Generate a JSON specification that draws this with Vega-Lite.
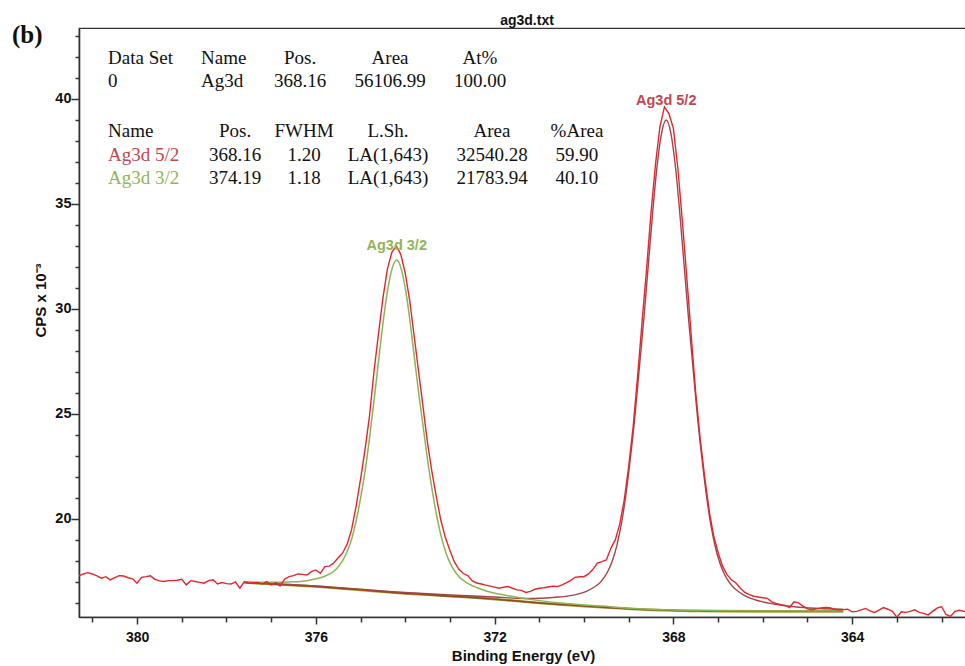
{
"$schema": "https://vega.github.io/schema/vega-lite/v6.json",
"autosize": "none",
"width": 888,
"height": 589,
"padding": {"left": 79, "top": 28, "right": 0, "bottom": 49},
"background": "white",
"config": {"font": "Liberation Sans", "view": {"stroke": "#333", "strokeWidth": 1.2}},
"title": {"text": "ag3d.txt", "fontSize": 14, "fontWeight": "bold", "color": "#111", "offset": -5, "dx": 4},
"datasets": {
"raw": [
{"E":381.3,"C":17.29},{"E":381.2,"C":17.38},{"E":381.1,"C":17.44},{"E":381.0,"C":17.38},{"E":380.9,"C":17.29},{"E":380.8,"C":17.18},{"E":380.7,"C":17.25},{"E":380.6,"C":17.10},{"E":380.5,"C":17.20},{"E":380.4,"C":17.30},{"E":380.3,"C":17.28},{"E":380.2,"C":17.20},{"E":380.1,"C":17.15},{"E":380.0,"C":16.94},{"E":379.9,"C":17.22},{"E":379.8,"C":17.25},{"E":379.7,"C":17.29},{"E":379.6,"C":17.12},{"E":379.5,"C":17.05},{"E":379.4,"C":17.02},{"E":379.3,"C":17.06},{"E":379.2,"C":17.06},{"E":379.1,"C":17.08},{"E":379.0,"C":17.13},{"E":378.9,"C":16.86},{"E":378.8,"C":17.06},{"E":378.7,"C":17.02},{"E":378.6,"C":16.98},{"E":378.5,"C":16.94},{"E":378.4,"C":17.06},{"E":378.3,"C":17.10},{"E":378.2,"C":16.90},{"E":378.1,"C":16.97},{"E":378.0,"C":16.92},{"E":377.9,"C":16.90},{"E":377.8,"C":17.00},{"E":377.7,"C":16.70},{"E":377.6,"C":17.02},{"E":377.5,"C":16.94},{"E":377.4,"C":16.96},{"E":377.3,"C":16.97},{"E":377.2,"C":16.90},{"E":377.1,"C":17.02},{"E":377.0,"C":16.86},{"E":376.9,"C":16.97},{"E":376.8,"C":16.81},{"E":376.7,"C":17.13},{"E":376.6,"C":17.25},{"E":376.5,"C":17.30},{"E":376.4,"C":17.38},{"E":376.3,"C":17.36},{"E":376.2,"C":17.33},{"E":376.1,"C":17.49},{"E":376.0,"C":17.57},{"E":375.9,"C":17.41},{"E":375.8,"C":17.73},{"E":375.7,"C":17.75},{"E":375.6,"C":17.90},{"E":375.5,"C":18.15},{"E":375.4,"C":18.38},{"E":375.3,"C":18.80},{"E":375.2,"C":19.50},{"E":375.1,"C":20.60},{"E":375.0,"C":21.90},{"E":374.9,"C":23.30},{"E":374.8,"C":24.90},{"E":374.7,"C":27.00},{"E":374.6,"C":28.80},{"E":374.5,"C":30.50},{"E":374.4,"C":31.90},{"E":374.3,"C":32.70},{"E":374.2,"C":33.00},{"E":374.1,"C":32.60},{"E":374.0,"C":31.70},{"E":373.9,"C":30.40},{"E":373.8,"C":28.70},{"E":373.7,"C":27.00},{"E":373.6,"C":25.30},{"E":373.5,"C":23.60},{"E":373.4,"C":22.20},{"E":373.3,"C":21.00},{"E":373.2,"C":19.90},{"E":373.1,"C":19.10},{"E":373.0,"C":18.50},{"E":372.9,"C":17.95},{"E":372.8,"C":17.60},{"E":372.7,"C":17.40},{"E":372.6,"C":17.30},{"E":372.5,"C":17.05},{"E":372.4,"C":16.95},{"E":372.3,"C":16.90},{"E":372.2,"C":16.85},{"E":372.1,"C":16.80},{"E":372.0,"C":16.75},{"E":371.9,"C":16.70},{"E":371.8,"C":16.75},{"E":371.7,"C":16.78},{"E":371.6,"C":16.70},{"E":371.5,"C":16.62},{"E":371.4,"C":16.60},{"E":371.3,"C":16.50},{"E":371.2,"C":16.55},{"E":371.1,"C":16.65},{"E":371.0,"C":16.70},{"E":370.9,"C":16.72},{"E":370.8,"C":16.76},{"E":370.7,"C":16.80},{"E":370.6,"C":16.78},{"E":370.5,"C":16.85},{"E":370.4,"C":16.95},{"E":370.3,"C":17.06},{"E":370.2,"C":17.22},{"E":370.1,"C":17.25},{"E":370.0,"C":17.25},{"E":369.9,"C":17.38},{"E":369.8,"C":17.60},{"E":369.7,"C":17.90},{"E":369.6,"C":17.97},{"E":369.5,"C":18.05},{"E":369.4,"C":18.60},{"E":369.3,"C":19.00},{"E":369.2,"C":19.75},{"E":369.1,"C":20.90},{"E":369.0,"C":22.50},{"E":368.9,"C":24.40},{"E":368.8,"C":26.80},{"E":368.7,"C":29.40},{"E":368.6,"C":31.90},{"E":368.5,"C":34.60},{"E":368.4,"C":36.90},{"E":368.3,"C":38.70},{"E":368.2,"C":39.62},{"E":368.1,"C":39.30},{"E":368.0,"C":38.60},{"E":367.9,"C":36.70},{"E":367.8,"C":34.20},{"E":367.7,"C":31.50},{"E":367.6,"C":28.70},{"E":367.5,"C":26.00},{"E":367.4,"C":23.80},{"E":367.3,"C":22.00},{"E":367.2,"C":20.40},{"E":367.1,"C":19.20},{"E":367.0,"C":18.40},{"E":366.9,"C":17.75},{"E":366.8,"C":17.35},{"E":366.7,"C":17.10},{"E":366.6,"C":16.95},{"E":366.5,"C":16.70},{"E":366.4,"C":16.50},{"E":366.3,"C":16.40},{"E":366.2,"C":16.32},{"E":366.1,"C":16.28},{"E":366.0,"C":16.25},{"E":365.9,"C":16.22},{"E":365.8,"C":16.05},{"E":365.7,"C":15.98},{"E":365.6,"C":15.92},{"E":365.5,"C":15.88},{"E":365.4,"C":15.78},{"E":365.3,"C":16.05},{"E":365.2,"C":16.00},{"E":365.1,"C":15.85},{"E":365.0,"C":15.72},{"E":364.9,"C":15.67},{"E":364.8,"C":15.72},{"E":364.7,"C":15.76},{"E":364.6,"C":15.78},{"E":364.5,"C":15.77},{"E":364.4,"C":15.70},{"E":364.3,"C":15.67},{"E":364.2,"C":15.68},{"E":364.1,"C":15.70},{"E":364.0,"C":15.58},{"E":363.9,"C":15.60},{"E":363.8,"C":15.67},{"E":363.7,"C":15.74},{"E":363.6,"C":15.62},{"E":363.5,"C":15.55},{"E":363.4,"C":15.66},{"E":363.3,"C":15.78},{"E":363.2,"C":15.70},{"E":363.1,"C":15.60},{"E":363.0,"C":15.32},{"E":362.9,"C":15.58},{"E":362.8,"C":15.55},{"E":362.7,"C":15.60},{"E":362.6,"C":15.67},{"E":362.5,"C":15.55},{"E":362.4,"C":15.50},{"E":362.3,"C":15.43},{"E":362.2,"C":15.60},{"E":362.1,"C":15.75},{"E":362.0,"C":15.83},{"E":361.9,"C":15.45},{"E":361.8,"C":15.36},{"E":361.7,"C":15.60},{"E":361.6,"C":15.65},{"E":361.5,"C":15.60},{"E":361.4,"C":15.55}
],
"bg": [
{"E":377.6,"C":16.97},{"E":377.0,"C":16.90},{"E":376.5,"C":16.84},{"E":376.0,"C":16.78},{"E":375.5,"C":16.70},{"E":375.0,"C":16.62},{"E":374.5,"C":16.53},{"E":374.0,"C":16.45},{"E":373.5,"C":16.39},{"E":373.0,"C":16.32},{"E":372.5,"C":16.26},{"E":372.0,"C":16.18},{"E":371.5,"C":16.09},{"E":371.0,"C":16.00},{"E":370.5,"C":15.92},{"E":370.0,"C":15.85},{"E":369.5,"C":15.78},{"E":369.0,"C":15.72},{"E":368.5,"C":15.67},{"E":368.0,"C":15.64},{"E":367.5,"C":15.62},{"E":367.0,"C":15.61},{"E":366.0,"C":15.60},{"E":365.0,"C":15.60},{"E":364.2,"C":15.60}
],
"c32": [
{"E":377.6,"C":17.00},{"E":377.0,"C":16.98},{"E":376.6,"C":17.00},{"E":376.2,"C":17.06},{"E":375.99,"C":17.15},{"E":375.79,"C":17.28},{"E":375.59,"C":17.52},{"E":375.49,"C":17.75},{"E":375.39,"C":18.05},{"E":375.29,"C":18.50},{"E":375.19,"C":19.10},{"E":375.09,"C":20.00},{"E":374.99,"C":21.10},{"E":374.89,"C":22.40},{"E":374.79,"C":24.00},{"E":374.69,"C":25.80},{"E":374.59,"C":27.65},{"E":374.49,"C":29.45},{"E":374.39,"C":30.94},{"E":374.29,"C":31.95},{"E":374.19,"C":32.33},{"E":374.09,"C":31.91},{"E":373.99,"C":30.87},{"E":373.89,"C":29.36},{"E":373.79,"C":27.59},{"E":373.69,"C":25.84},{"E":373.59,"C":24.25},{"E":373.49,"C":22.65},{"E":373.39,"C":21.28},{"E":373.29,"C":20.08},{"E":373.19,"C":19.12},{"E":373.09,"C":18.39},{"E":372.99,"C":17.87},{"E":372.89,"C":17.51},{"E":372.79,"C":17.24},{"E":372.69,"C":17.06},{"E":372.59,"C":16.92},{"E":372.39,"C":16.72},{"E":372.19,"C":16.57},{"E":371.8,"C":16.38},{"E":371.4,"C":16.23},{"E":371.0,"C":16.11},{"E":370.4,"C":15.97},{"E":369.6,"C":15.85},{"E":369.0,"C":15.75},{"E":368.0,"C":15.66},{"E":367.0,"C":15.63},{"E":366.0,"C":15.61},{"E":364.2,"C":15.61}
],
"c52": [
{"E":377.6,"C":16.99},{"E":376.0,"C":16.81},{"E":374.2,"C":16.52},{"E":373.0,"C":16.38},{"E":372.0,"C":16.28},{"E":371.36,"C":16.21},{"E":370.96,"C":16.22},{"E":370.56,"C":16.28},{"E":370.16,"C":16.41},{"E":369.96,"C":16.54},{"E":369.76,"C":16.77},{"E":369.66,"C":16.93},{"E":369.56,"C":17.18},{"E":369.46,"C":17.53},{"E":369.36,"C":18.04},{"E":369.26,"C":18.78},{"E":369.16,"C":19.81},{"E":369.06,"C":21.20},{"E":368.96,"C":22.94},{"E":368.86,"C":24.91},{"E":368.76,"C":27.24},{"E":368.66,"C":29.56},{"E":368.56,"C":32.13},{"E":368.46,"C":34.69},{"E":368.36,"C":36.90},{"E":368.26,"C":38.42},{"E":368.16,"C":39.00},{"E":368.06,"C":38.41},{"E":367.96,"C":36.89},{"E":367.86,"C":34.66},{"E":367.76,"C":32.09},{"E":367.66,"C":29.52},{"E":367.56,"C":27.18},{"E":367.46,"C":24.84},{"E":367.36,"C":22.86},{"E":367.26,"C":21.11},{"E":367.16,"C":19.70},{"E":367.06,"C":18.65},{"E":366.96,"C":17.90},{"E":366.86,"C":17.38},{"E":366.76,"C":17.01},{"E":366.66,"C":16.75},{"E":366.56,"C":16.57},{"E":366.36,"C":16.30},{"E":366.16,"C":16.14},{"E":365.76,"C":15.95},{"E":365.36,"C":15.83},{"E":364.96,"C":15.76},{"E":364.2,"C":15.70}
],
"tableL": [
{"t":"Data Set","E":380.649,"C":41.67,"k":"head"},
{"t":"Name","E":378.568,"C":41.67,"k":"head"},
{"t":"0","E":380.649,"C":40.56,"k":"head"},
{"t":"Ag3d","E":378.568,"C":40.56,"k":"head"},
{"t":"Name","E":380.649,"C":38.18,"k":"head"},
{"t":"Ag3d 5/2","E":380.649,"C":37.06,"k":"p52"},
{"t":"Ag3d 3/2","E":380.649,"C":35.95,"k":"p32"}
],
"tableC": [
{"t":"Pos.","E":376.353,"C":41.67,"k":"head"},
{"t":"Area","E":374.34,"C":41.67,"k":"head"},
{"t":"At%","E":372.327,"C":41.67,"k":"head"},
{"t":"368.16","E":376.353,"C":40.56,"k":"head"},
{"t":"56106.99","E":374.34,"C":40.56,"k":"head"},
{"t":"100.00","E":372.327,"C":40.56,"k":"head"},
{"t":"Pos.","E":377.808,"C":38.18,"k":"head"},
{"t":"FWHM","E":376.264,"C":38.18,"k":"head"},
{"t":"L.Sh.","E":374.385,"C":38.18,"k":"head"},
{"t":"Area","E":372.058,"C":38.18,"k":"head"},
{"t":"%Area","E":370.157,"C":38.18,"k":"head"},
{"t":"368.16","E":377.808,"C":37.06,"k":"head"},
{"t":"1.20","E":376.264,"C":37.06,"k":"head"},
{"t":"LA(1,643)","E":374.385,"C":37.06,"k":"head"},
{"t":"32540.28","E":372.058,"C":37.06,"k":"head"},
{"t":"59.90","E":370.157,"C":37.06,"k":"head"},
{"t":"374.19","E":377.808,"C":35.95,"k":"head"},
{"t":"1.18","E":376.264,"C":35.95,"k":"head"},
{"t":"LA(1,643)","E":374.385,"C":35.95,"k":"head"},
{"t":"21783.94","E":372.058,"C":35.95,"k":"head"},
{"t":"40.10","E":370.157,"C":35.95,"k":"head"}
],
"peaks": [
{"t":"Ag3d 5/2","E":368.16,"C":39.69,"k":"p52"},
{"t":"Ag3d 3/2","E":374.19,"C":32.83,"k":"p32"}
],
"panel": [
{"t":"(b)","E":382.8,"C":42.68,"k":"head"}
]
},
"encoding": {
"x": {"field": "E", "type": "quantitative",
  "scale": {"domain": [361.43, 381.3], "reverse": true, "nice": false, "zero": false},
  "axis": {"values": [362,363,364,365,366,367,368,369,370,371,372,373,374,375,376,377,378,379,380,381],
    "labelExpr": "datum.value % 4 === 0 ? datum.label : ''",
    "tickSize": {"condition": {"test": "datum.value % 4 === 0", "value": 7}, "value": 5},
    "labelOverlap": false, "labelBound": false, "labelFlush": false, "grid": false,
    "labelFontSize": 14, "labelFontWeight": "bold", "labelColor": "#111", "labelPadding": 6,
    "domainColor": "#333", "domainWidth": 1.6, "tickColor": "#333", "tickWidth": 1.5,
    "title": "Binding Energy (eV)", "titleFontSize": 15, "titleFontWeight": "bold", "titleColor": "#111", "titlePadding": 4}},
"y": {"field": "C", "type": "quantitative",
  "scale": {"domain": [15.33, 43.38], "nice": false, "zero": false},
  "axis": {"values": [16,17,18,19,20,21,22,23,24,25,26,27,28,29,30,31,32,33,34,35,36,37,38,39,40,41,42,43],
    "labelExpr": "datum.value % 5 === 0 ? datum.label : ''",
    "tickSize": {"condition": {"test": "datum.value % 5 === 0", "value": 8}, "value": 4},
    "labelOverlap": false, "labelBound": false, "labelFlush": false, "grid": false,
    "labelFontSize": 14.5, "labelFontWeight": "bold", "labelColor": "#111", "labelPadding": 0,
    "domainColor": "#333", "domainWidth": 1.6, "tickColor": "#333", "tickWidth": 1.5,
    "title": "CPS x 10⁻³", "titleFontSize": 15, "titleFontWeight": "bold", "titleColor": "#111", "titlePadding": 6, "titleY": 272}}
},
"layer": [
{"data": {"name": "bg"}, "mark": {"type": "line", "color": "#a9a23a", "strokeWidth": 2.6, "interpolate": "monotone", "clip": true}},
{"data": {"name": "bg"}, "mark": {"type": "line", "color": "#8b4a1c", "strokeWidth": 1.4, "interpolate": "monotone", "clip": true}},
{"data": {"name": "c52"}, "mark": {"type": "line", "color": "#a5434b", "strokeWidth": 1.4, "interpolate": "monotone", "clip": true}},
{"data": {"name": "c32"}, "mark": {"type": "line", "color": "#8db356", "strokeWidth": 1.5, "interpolate": "monotone", "clip": true}},
{"data": {"name": "raw"}, "mark": {"type": "line", "color": "#e3262d", "strokeWidth": 1.4, "clip": true}},
{"data": {"name": "tableL"}, "mark": {"type": "text", "align": "left", "baseline": "alphabetic", "font": "Liberation Serif", "fontSize": 19},
  "encoding": {"text": {"field": "t"}, "color": {"field": "k", "type": "nominal", "scale": {"domain": ["head","p52","p32"], "range": ["#111111","#c0474e","#93b35a"]}, "legend": null}}},
{"data": {"name": "tableC"}, "mark": {"type": "text", "align": "center", "baseline": "alphabetic", "font": "Liberation Serif", "fontSize": 19},
  "encoding": {"text": {"field": "t"}, "color": {"field": "k", "type": "nominal", "scale": {"domain": ["head","p52","p32"], "range": ["#111111","#c0474e","#93b35a"]}, "legend": null}}},
{"data": {"name": "peaks"}, "mark": {"type": "text", "align": "center", "baseline": "alphabetic", "font": "Liberation Sans", "fontWeight": "bold", "fontSize": 14.5},
  "encoding": {"text": {"field": "t"}, "color": {"field": "k", "type": "nominal", "scale": {"domain": ["head","p52","p32"], "range": ["#111111","#c0474e","#93b35a"]}, "legend": null}}},
{"data": {"name": "panel"}, "mark": {"type": "text", "align": "left", "baseline": "alphabetic", "font": "Liberation Serif", "fontWeight": "bold", "fontSize": 25, "clip": false, "color": "#111"},
  "encoding": {"text": {"field": "t"}}}
]
}
